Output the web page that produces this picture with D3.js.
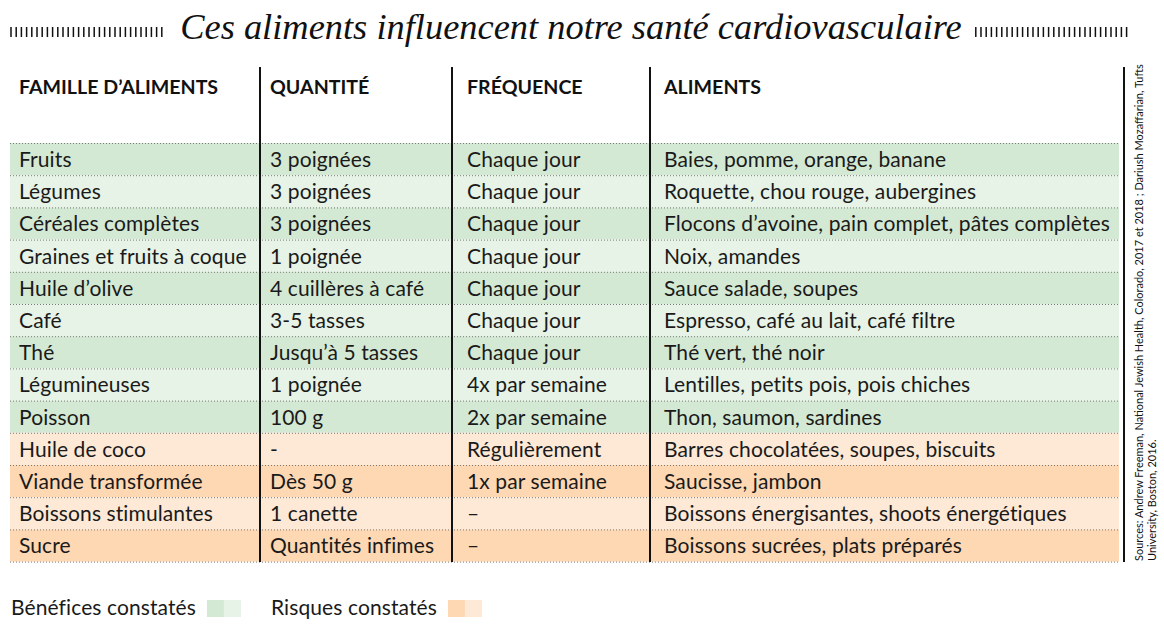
<!DOCTYPE html>
<html>
<head>
<meta charset="utf-8">
<script src="https://cdn.jsdelivr.net/npm/d3@7"></script>
<style>
  html, body { margin: 0; padding: 0; background: #fff; }
  svg { display: block; }
  .cell { font-family: Lato, sans-serif; font-size: 21px; letter-spacing: 0.1px; fill: #1a1a1a; }
  .head { font-family: Lato, sans-serif; font-weight: 700; font-size: 19.6px; fill: #111; }
</style>
</head>
<body>
<div id="chart"></div>
<script>
var title = "Ces aliments influencent notre santé cardiovasculaire";
var columns = ["FAMILLE D’ALIMENTS", "QUANTITÉ", "FRÉQUENCE", "ALIMENTS"];
var familles = ["Fruits", "Légumes", "Céréales complètes", "Graines et fruits à coque", "Huile d’olive", "Café", "Thé",
  "Légumineuses", "Poisson", "Huile de coco", "Viande transformée", "Boissons stimulantes", "Sucre"];
var quantites = ["3 poignées", "3 poignées", "3 poignées", "1 poignée", "4 cuillères à café", "3-5 tasses", "Jusqu’à 5 tasses",
  "1 poignée", "100 g", "-", "Dès 50 g", "1 canette", "Quantités infimes"];
var frequences = ["Chaque jour", "Chaque jour", "Chaque jour", "Chaque jour", "Chaque jour", "Chaque jour", "Chaque jour",
  "4x par semaine", "2x par semaine", "Régulièrement", "1x par semaine", "–", "–"];
var aliments = ["Baies, pomme, orange, banane", "Roquette, chou rouge, aubergines", "Flocons d’avoine, pain complet, pâtes complètes",
  "Noix, amandes", "Sauce salade, soupes", "Espresso, café au lait, café filtre", "Thé vert, thé noir",
  "Lentilles, petits pois, pois chiches", "Thon, saumon, sardines", "Barres chocolatées, soupes, biscuits",
  "Saucisse, jambon", "Boissons énergisantes, shoots énergétiques", "Boissons sucrées, plats préparés"];
var effets = ["b", "b", "b", "b", "b", "b", "b", "b", "b", "r", "r", "r", "r"];
var legendLabels = ["Bénéfices constatés", "Risques constatés"];
var sourceLines = ["Sources: Andrew Freeman, National Jewish Health, Colorado, 2017 et 2018 ; Dariush Mozaffarian, Tufts",
  "University, Boston, 2016."];

var width = 1164, height = 633;
var shades = { b: ["#d4e9d3", "#e7f3e6"], r: ["#fdd8b3", "#fde9d6"] };

var svg = d3.select("#chart").append("svg")
  .attr("width", width)
  .attr("height", height);

// title with hatched rules each side
var titleText = svg.append("text")
  .attr("x", 571).attr("y", 39)
  .attr("text-anchor", "middle")
  .style("font-family", "'Liberation Serif', serif")
  .style("font-style", "italic")
  .style("font-size", "34px")
  .style("fill", "#111")
  .text(title);

// scale the title so it spans the same width as the original (~782px)
var tw = titleText.node().getComputedTextLength();
titleText.style("font-size", (34 * 782 / tw) + "px");
tw = titleText.node().getComputedTextLength();
var tLeft = 571 - tw / 2, tRight = 571 + tw / 2;
function hatch(x0, x1) {
  var n = Math.floor((x1 - x0) / 5.2);
  svg.append("g").selectAll("line")
    .data(d3.range(n + 1))
    .join("line")
    .attr("x1", d => x0 + d * 5.2).attr("x2", d => x0 + d * 5.2)
    .attr("y1", 27).attr("y2", 37)
    .attr("stroke", "#111").attr("stroke-width", 1.5);
}
hatch(11, tLeft - 15);
hatch(tRight + 14, 1129);

// table geometry
var colX = [10, 260, 452, 650, 1124];
var padX = [9, 10, 15, 14];
var tableRight = 1119;
var y = d3.scaleBand()
  .domain(d3.range(familles.length))
  .range([143, 561.6]);

var rows = svg.append("g").selectAll("g")
  .data(familles.map((f, i) => ({ i: i, cells: [f, quantites[i], frequences[i], aliments[i]], e: effets[i] })))
  .join("g")
  .attr("transform", d => "translate(0," + y(d.i) + ")");

rows.append("rect")
  .attr("x", colX[0]).attr("width", tableRight - colX[0])
  .attr("height", y.bandwidth())
  .attr("fill", d => shades[d.e][d.i % 2]);

rows.selectAll("text")
  .data(d => d.cells)
  .join("text")
  .attr("class", "cell")
  .attr("x", (d, j) => colX[j] + padX[j])
  .attr("y", y.bandwidth() / 2 + 8)
  .text(d => d);

// dotted separators
svg.append("g").selectAll("line")
  .data(d3.range(familles.length + 1))
  .join("line")
  .attr("x1", colX[0]).attr("x2", tableRight)
  .attr("y1", d => (d < familles.length ? y(d) : y.range()[1]) + 0.5)
  .attr("y2", d => (d < familles.length ? y(d) : y.range()[1]) + 0.5)
  .attr("stroke", "#7a7a7a").attr("stroke-width", 1)
  .attr("stroke-dasharray", "1,2");

// column rules
svg.append("g").selectAll("line")
  .data(colX.slice(1))
  .join("line")
  .attr("x1", d => d).attr("x2", d => d)
  .attr("y1", 67).attr("y2", 562)
  .attr("stroke", "#111").attr("stroke-width", 2);

// headers
svg.append("g").selectAll("text")
  .data(columns)
  .join("text")
  .attr("class", "head")
  .attr("x", (d, i) => colX[i] + padX[i])
  .attr("y", 94)
  .text(d => d);

// sources, rotated
var src = svg.append("g").attr("transform", "translate(1143,561) rotate(-90)");
src.selectAll("text")
  .data(sourceLines)
  .join("text")
  .attr("x", 0)
  .attr("y", (d, i) => i * 12.5)
  .style("font-family", "Lato, sans-serif")
  .style("font-size", "11px")
  .style("fill", "#111")
  .text(d => d);
var sw = src.select("text").node().getComputedTextLength();
src.selectAll("text").style("font-size", (11 * 497 / sw) + "px");

// legend
var legend = svg.append("g").selectAll("g")
  .data(legendLabels.map((l, i) => ({ label: l, key: i === 0 ? "b" : "r", x: i === 0 ? 10 : 270 })))
  .join("g")
  .attr("transform", d => "translate(" + d.x + ",0)");

legend.append("text")
  .attr("class", "cell")
  .attr("x", 1).attr("y", 615)
  .text(d => d.label);

legend.each(function(d) {
  var g = d3.select(this);
  var lw = g.select("text").node().getComputedTextLength();
  g.selectAll("rect")
    .data(shades[d.key])
    .join("rect")
    .attr("x", (c, k) => lw + 12 + k * 17)
    .attr("y", 600).attr("width", 17).attr("height", 17)
    .attr("fill", c => c);
});
</script>
</body>
</html>
